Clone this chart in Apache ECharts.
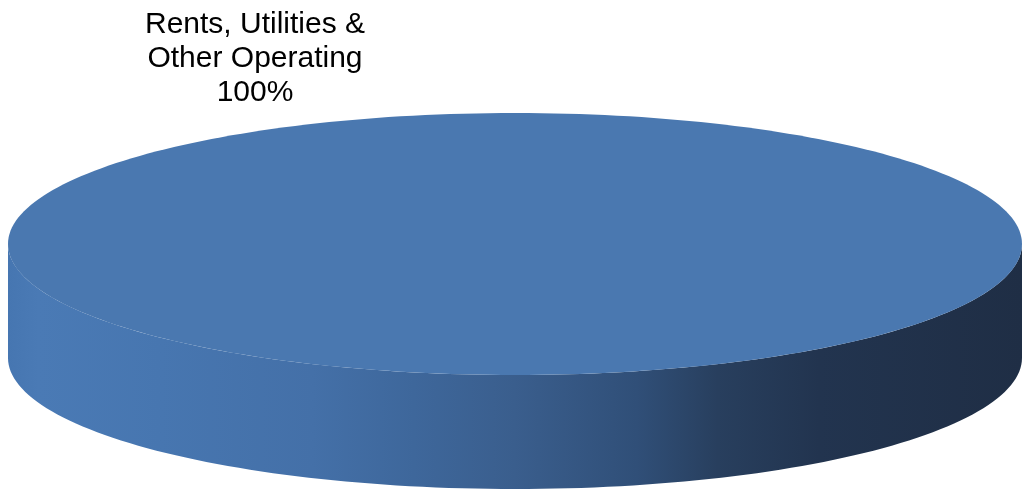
<!DOCTYPE html>
<html><head><meta charset="utf-8">
<script src="https://cdn.jsdelivr.net/npm/echarts@6/dist/echarts.min.js"></script>
<style>html,body{margin:0;padding:0;background:#fff}#c{width:1024px;height:492px}</style>
</head><body><div id="c"></div>
<script>
const categories = ['Rents, Utilities & Other Operating'];
const labelLines = ['Rents, Utilities &\nOther Operating'];
const values = [100];
const sliceColors = ['#4A78B0'];

const chart = echarts.init(document.getElementById('c'), null, {renderer: 'canvas'});
const total = values.reduce((a, b) => a + b, 0);
const CX = 515, CY = 244, RX = 507, RY = 131, DEPTH = 114;
const START = -Math.PI / 2;
function pt(a, dy) { return [CX + RX * Math.cos(a), CY + dy + RY * Math.sin(a)]; }
function arc(a0, a1, dy, n) {
  const out = [];
  for (let k = 0; k <= n; k++) out.push(pt(a0 + (a1 - a0) * k / n, dy));
  return out;
}
function sideGradient() {
  return new echarts.graphic.LinearGradient(0, 0, 1, 0, [
    {offset: 0, color: '#4676B1'},
    {offset: 0.03, color: '#4A7AB5'},
    {offset: 0.15, color: '#4776B0'},
    {offset: 0.3, color: '#4470A8'},
    {offset: 0.4, color: '#3E679B'},
    {offset: 0.5, color: '#3A5E8D'},
    {offset: 0.62, color: '#304F78'},
    {offset: 0.7, color: '#283F5E'},
    {offset: 0.8, color: '#22344F'},
    {offset: 1, color: '#1F2E45'}
  ]);
}

function renderItem(params, api) {
  const i = params.dataIndex;
  const v = api.value(0);
  let cum = 0;
  for (let j = 0; j < i; j++) cum += values[j];
  const a0 = START + 2 * Math.PI * cum / total;
  const a1 = a0 + 2 * Math.PI * v / total;
  const full = v >= total;
  const children = [];
  for (let k = -2; k <= 2; k++) {
    const s = Math.max(a0, 2 * Math.PI * k);
    const e = Math.min(a1, 2 * Math.PI * k + Math.PI);
    if (e > s) {
      const topPts = arc(s, e, 0, 120);
      const botPts = arc(e, s, DEPTH, 120);
      children.push({
        type: 'polygon',
        shape: {points: topPts.concat(botPts)},
        style: {fill: sideGradient(), stroke: null}
      });
    }
  }
  let topShape;
  if (full) {
    topShape = {type: 'ellipse', shape: {cx: CX, cy: CY, rx: RX, ry: RY}};
  } else {
    topShape = {type: 'polygon', shape: {points: [[CX, CY]].concat(arc(a0, a1, 0, 200))}};
  }
  topShape.style = {fill: sliceColors[i % sliceColors.length], stroke: null};
  children.push(topShape);
  const pct = Math.round(v / total * 100) + '%';
  children.push({
    type: 'text',
    x: 255, y: 59,
    style: {
      text: labelLines[i] + '\n' + pct,
      fill: '#000',
      font: '30px "Liberation Sans", Arial, sans-serif',
      lineHeight: 34,
      align: 'center',
      verticalAlign: 'middle'
    }
  });
  return {type: 'group', children: children};
}

chart.setOption({
  animation: false,
  backgroundColor: '#fff',
  series: [{
    type: 'custom',
    coordinateSystem: 'none',
    data: values.map((v, i) => ({value: v, name: categories[i]})),
    renderItem: renderItem
  }]
});
</script></body></html>
